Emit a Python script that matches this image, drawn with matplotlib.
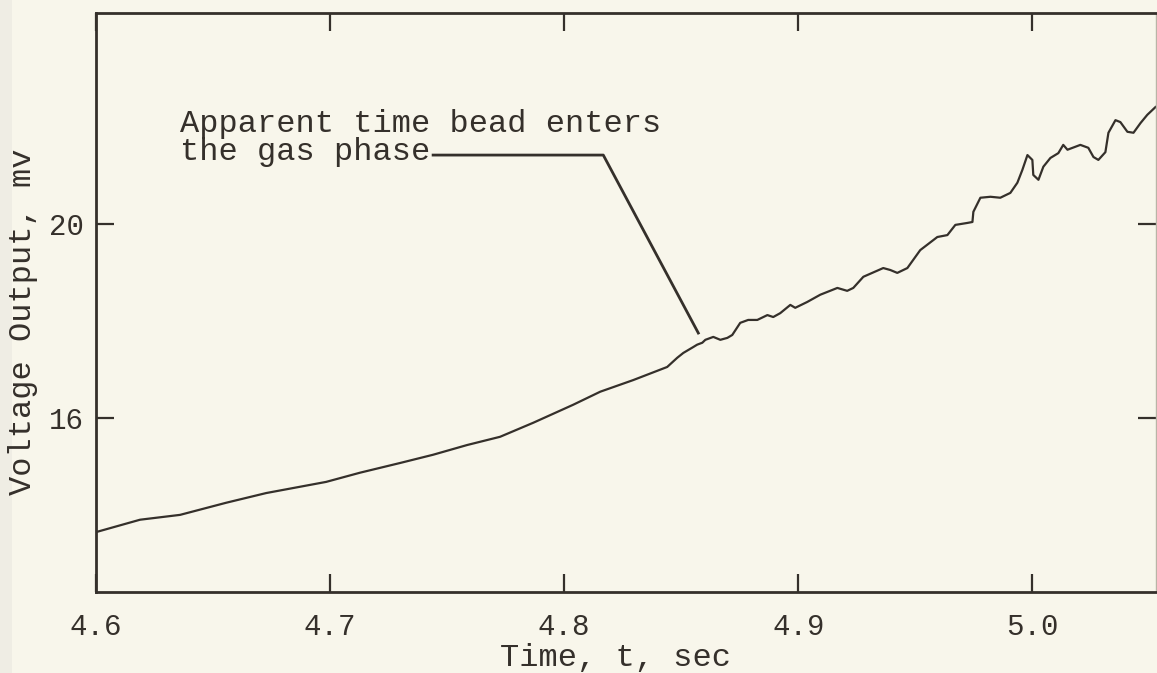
import matplotlib
matplotlib.use("Agg")
import matplotlib.pyplot as plt
from matplotlib.patches import Rectangle

# ---- data ----
time_s = [4.6004, 4.6188, 4.6359, 4.6556, 4.6727, 4.6983, 4.7128, 4.7299,
          4.7440, 4.7585, 4.7726, 4.7868, 4.8038, 4.8154, 4.8295, 4.8440,
          4.8483, 4.8509, 4.8551, 4.8568, 4.8590, 4.8603, 4.8637, 4.8667,
          4.8697, 4.8718, 4.8752, 4.8786, 4.8825, 4.8868, 4.8893, 4.8923,
          4.8966, 4.8987, 4.9038, 4.9094, 4.9167, 4.9209, 4.9235, 4.9278,
          4.9363, 4.9393, 4.9423, 4.9466, 4.9521, 4.9594, 4.9637, 4.9671,
          4.9722, 4.9744, 4.9748, 4.9778, 4.9821, 4.9863, 4.9906, 4.9936,
          4.9957, 4.9979, 5.0000, 5.0004, 5.0026, 5.0047, 5.0077, 5.0111,
          5.0132, 5.0150, 5.0205, 5.0239, 5.0261, 5.0282, 5.0312, 5.0325,
          5.0355, 5.0376, 5.0406, 5.0432, 5.0462, 5.0491, 5.0526]
voltage_mv = [13.65, 13.90, 14.00, 14.25, 14.45, 14.68, 14.87, 15.07,
              15.24, 15.44, 15.61, 15.90, 16.27, 16.54, 16.78, 17.05,
              17.24, 17.34, 17.46, 17.51, 17.55, 17.61, 17.67, 17.61,
              17.65, 17.71, 17.96, 18.02, 18.02, 18.12, 18.08, 18.16,
              18.33, 18.27, 18.39, 18.54, 18.68, 18.62, 18.68, 18.91,
              19.09, 19.05, 18.99, 19.09, 19.46, 19.73, 19.77, 19.98,
              20.02, 20.04, 20.25, 20.54, 20.56, 20.54, 20.64, 20.85,
              21.11, 21.42, 21.32, 21.01, 20.91, 21.18, 21.36, 21.46,
              21.63, 21.53, 21.63, 21.57, 21.38, 21.32, 21.48, 21.88,
              22.14, 22.10, 21.90, 21.88, 22.08, 22.25, 22.41]

x_ticks = [4.6, 4.7, 4.8, 4.9, 5.0]
x_tick_labels = ["4.6", "4.7", "4.8", "4.9", "5.0"]
y_ticks = [16, 20]
y_tick_labels = ["16", "20"]

annotation_lines = ["Apparent time bead enters", "the gas phase"]
# leader line of the annotation (data coordinates)
leader_t = [4.7440, 4.8167, 4.8573]
leader_v = [21.42, 21.42, 17.75]

# ---- style ----
BG = "#f8f6eb"
INK = "#35302b"
FONT = ["Liberation Mono", "DejaVu Sans Mono"]

fig = plt.figure(figsize=(11.57, 6.73), dpi=100, facecolor=BG)
# slightly greyer scan margin at the left edge
fig.patches.append(Rectangle((0, 0), 0.010, 1, transform=fig.transFigure,
                             facecolor="#efede4", edgecolor="none", zorder=-5))
ax = fig.add_axes([0.083, 0.1204, 0.9165, 0.8603], facecolor=BG)

ax.plot(time_s, voltage_mv, color=INK, lw=1.6, solid_joinstyle="round")
ax.plot(leader_t, leader_v, color=INK, lw=2.0)

ax.text(4.6359, 21.90, annotation_lines[0], family=FONT, fontsize=23,
        color=INK, va="baseline", ha="left")
ax.text(4.6359, 21.32, annotation_lines[1], family=FONT, fontsize=23,
        color=INK, va="baseline", ha="left")

ax.set_xlim(4.6, 5.053)
ax.set_ylim(12.41, 24.35)

ax.set_xticks(x_ticks)
ax.set_xticklabels(x_tick_labels, family=FONT, fontsize=21, color=INK)
ax.set_yticks(y_ticks)
ax.set_yticklabels(y_tick_labels, family=FONT, fontsize=21, color=INK)

ax.tick_params(axis="x", direction="in", length=13, width=1.6, color=INK,
               top=True, bottom=True, pad=15)
ax.tick_params(axis="y", direction="in", length=13, width=1.6, color=INK,
               left=True, right=True, pad=9)

for side in ["left", "bottom", "top"]:
    ax.spines[side].set_color(INK)
    ax.spines[side].set_linewidth(2.0)
ax.spines["right"].set_color("#b9b4a6")
ax.spines["right"].set_linewidth(1.0)

ax.set_xlabel("Time, t, sec", family=FONT, fontsize=23, color=INK)
ax.xaxis.set_label_coords(0.4895, -0.088, transform=ax.transAxes)
ax.xaxis.label.set_va("top")
ax.set_ylabel("Voltage Output, mv", family=FONT, fontsize=23, color=INK)
ax.yaxis.set_label_coords(-0.0547, 0.466, transform=ax.transAxes)

fig.savefig("out.png", dpi=100, facecolor=BG)
